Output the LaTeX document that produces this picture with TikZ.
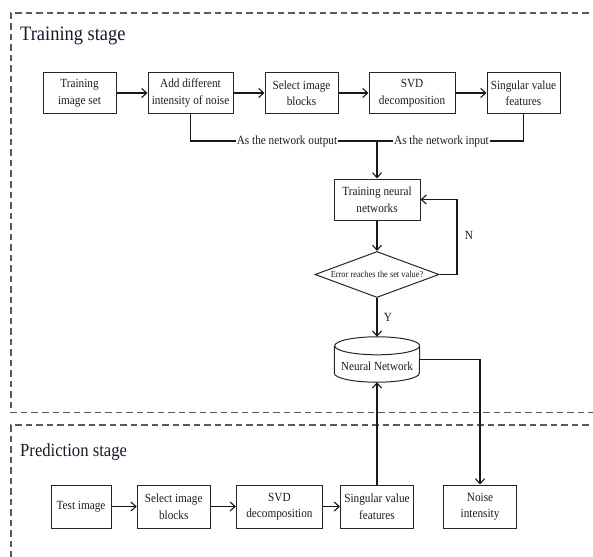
\documentclass[tikz,border=0pt]{standalone}
\usepackage{fontspec}
\setmainfont[FakeStretch=0.9]{Liberation Serif}
\usetikzlibrary{arrows.meta,shapes.geometric}
\definecolor{txt}{RGB}{25,25,45}
\definecolor{frame}{RGB}{90,90,90}
\begin{document}
\begin{tikzpicture}[x=1pt,y=1pt,
  ln/.style={draw=black!85, line width=1pt},
  box/.style={ln, align=center, inner sep=1pt, minimum height=41pt, font=\fontsize{12.5}{16.5}\selectfont, text=txt},
  conn/.style={line width=1.1pt, draw=black!90},
  arr/.style={conn, -{Straight Barb[length=5pt,width=9pt,line width=1.1pt]}},
  lab/.style={inner sep=0.8pt, font=\fontsize{12.5}{15}\selectfont, text=txt},
  yn/.style={inner sep=0pt, font=\fontsize{12.5}{15}\selectfont, text=txt},
  stagebox/.style={draw=frame, line width=1.2pt, dash pattern=on 6.5pt off 4pt},
  title/.style={inner sep=0pt, anchor=base west, text=txt}]
\useasboundingbox (0,0) rectangle (593,-556);
\clip (0,0) rectangle (593,-556);
% stage frames
\draw[stagebox] (620,-13) -- (11,-13) -- (11,-412.5) -- (620,-412.5);
\draw[stagebox] (620,-425) -- (11,-425) -- (11,-580);
\node[title, font=\fontsize{20.5}{24}\selectfont] (ttrain) at (20,-41) {Training stage};
\node[title, font=\fontsize{18.5}{22}\selectfont] (tpred) at (20,-456) {Prediction stage};
% training row
\node[box, minimum width=73pt] (b1) at (79.5,-93) {Training\\image set};
\node[box, minimum width=85pt] (b2) at (190.5,-93) {Add different\\intensity of noise};
\node[box, minimum width=73pt] (b3) at (301.5,-93) {Select image\\blocks};
\node[box, minimum width=86pt] (b4) at (412,-93) {SVD\\decomposition};
\node[box, minimum width=73pt] (b5) at (523.5,-93) {Singular value\\features};
\draw[arr] (b1) -- (b2);
\draw[arr] (b2) -- (b3);
\draw[arr] (b3) -- (b4);
\draw[arr] (b4) -- (b5);
% labels on the bus
\node[lab] (l1) at (287,-141) {As the network output};
\node[lab] (l2) at (441.5,-141) {As the network input};
\coordinate (j) at (377,-141);
\draw[conn] (b2.south) |- (l1.west);
\draw[conn] (l1.east) -- (l2.west);
\draw[conn] (b5.south) |- (l2.east);
% training loop
\node[box, minimum width=86pt] (tnn) at (377,-199.5) {Training neural\\networks};
\draw[arr] (j) -- (tnn.north);
\node[ln, diamond, aspect=2.7, inner sep=0pt, minimum width=124pt, minimum height=46pt, font=\fontsize{9.3}{11}\selectfont, text=txt] (dia) at (377,-274.5) {Error reaches the set value?};
\draw[arr] (tnn.south) -- (dia.north);
\coordinate (fb) at (457,-274.5);
\draw[arr] (dia.east) -- (fb) |- (tnn.east);
\node[yn] (nlab) at (469,-235) {N};
% neural network cylinder
\node[inner sep=0pt, minimum width=85pt, minimum height=45pt, font=\fontsize{12.3}{15}\selectfont, text=txt] (nn) at (377,-359.5) {\raisebox{-10.5pt}[0pt][0pt]{Neural Network}};
\draw[ln] ([yshift=-9pt]nn.north west) -- ([yshift=9pt]nn.south west)
  arc[start angle=180, end angle=360, x radius=42.5pt, y radius=9pt]
  -- ([yshift=-9pt]nn.north east)
  arc[start angle=0, end angle=360, x radius=42.5pt, y radius=9pt];
\draw[arr] (dia.south) -- (nn.north);
\node[yn] (ylab) at (388,-317.5) {Y};
% prediction row
\node[box, minimum width=60pt, minimum height=43pt] (p1) at (81,-506.5) {Test image};
\node[box, minimum width=73pt, minimum height=43pt] (p2) at (173.7,-506.5) {Select image\\blocks};
\node[box, minimum width=86pt, minimum height=43pt] (p3) at (279.4,-506.5) {SVD\\decomposition};
\node[box, minimum width=73pt, minimum height=43pt] (p4) at (377,-506.5) {Singular value\\features};
\node[box, minimum width=73pt, minimum height=43pt] (p5) at (480,-506.5) {Noise\\intensity};
\draw[arr] (p1) -- (p2);
\draw[arr] (p2) -- (p3);
\draw[arr] (p3) -- (p4);
\draw[arr] (p4.north) -- (nn.south);
\draw[arr] (nn.east) -| (p5.north);
\end{tikzpicture}
\end{document}
